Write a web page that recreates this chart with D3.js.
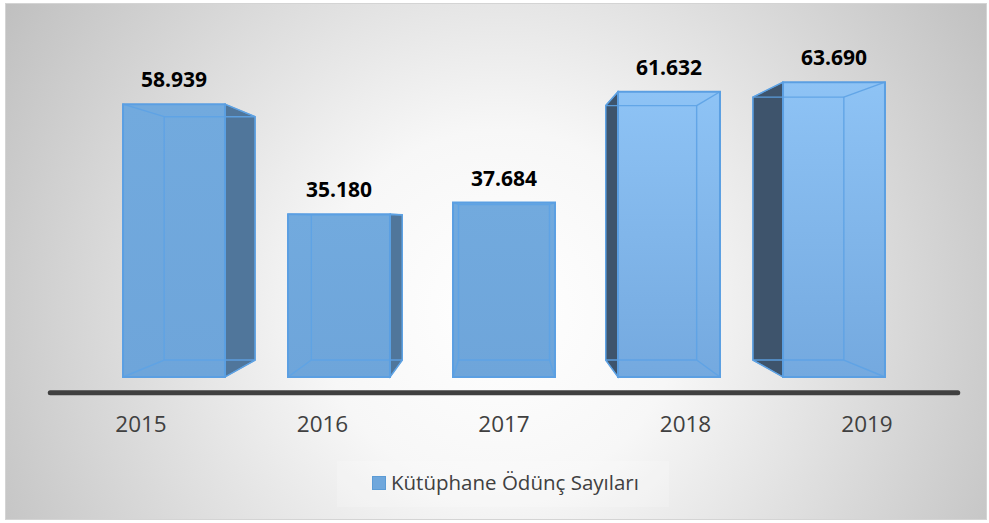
<!DOCTYPE html>
<html>
<head>
<meta charset="utf-8">
<script src="https://cdn.jsdelivr.net/npm/d3@7"></script>
<style>
  body { margin: 0; background: #fff; }
  svg { display: block; }
</style>
</head>
<body>
<script>
// size of the whole picture
var width = 989;
var height = 523;

// data
var years = ["2015", "2016", "2017", "2018", "2019"];
var values = [58939, 35180, 37684, 61632, 63690];
var seriesName = "Kütüphane Ödünç Sayıları";

// turkish number format, 58.939
var tr = d3.formatLocale({ decimal: ",", thousands: ".", grouping: [3], currency: ["", "₺"] });
var fmt = tr.format(",d");

var svg = d3.select("body").append("svg")
    .attr("width", width)
    .attr("height", height);

var defs = svg.append("defs");

// chart background, grey round the edges and white in the middle
var bg = defs.append("radialGradient")
    .attr("id", "bg")
    .attr("gradientUnits", "userSpaceOnUse")
    .attr("cx", 500).attr("cy", 310).attr("r", 600);
bg.append("stop").attr("offset", 0).attr("stop-color", "#ffffff");
bg.append("stop").attr("offset", 0.3).attr("stop-color", "#f7f7f7");
bg.append("stop").attr("offset", 1).attr("stop-color", "#bdbdbd");

// front faces
var gLeft = defs.append("linearGradient").attr("id", "faceL").attr("x1", 0).attr("y1", 0).attr("x2", 0).attr("y2", 1);
gLeft.append("stop").attr("offset", 0).attr("stop-color", "#72aade");
gLeft.append("stop").attr("offset", 1).attr("stop-color", "#6ea5da");
var gRight = defs.append("linearGradient").attr("id", "faceR").attr("x1", 0).attr("y1", 0).attr("x2", 0).attr("y2", 1);
gRight.append("stop").attr("offset", 0).attr("stop-color", "#8ec3f5");
gRight.append("stop").attr("offset", 1).attr("stop-color", "#74a9df");

svg.append("rect")
    .attr("x", 5.5).attr("y", 3.5)
    .attr("width", 981).attr("height", 516)
    .attr("fill", "url(#bg)")
    .attr("stroke", "#d4d4d4");

// scales
var x = d3.scaleBand()
    .domain(years)
    .range([91.5, 916.5])
    .paddingInner(0.382)
    .paddingOuter(0.191);

var y = d3.scaleLinear()
    .domain([0, 70000])
    .range([377, 53]);

// perspective: vanishing point, back face scale, floor scale
var vp = [504, 220];
var back = 0.892;
var floor = 1.1;

function proj(p, s) {
  return [vp[0] + (p[0] - vp[0]) * s, vp[1] + (p[1] - vp[1]) * s];
}

var line = d3.line();

var g = svg.append("g");

years.forEach(function(yr, i) {
  var x0 = x(yr), x1 = x(yr) + x.bandwidth();
  var yt = y(values[i]), yb = y(0);
  var F = [[x0, yt], [x1, yt], [x1, yb], [x0, yb]];
  var B = F.map(function(p) { return proj(p, back); });
  var cx = (x0 + x1) / 2;
  var bar = g.append("g").attr("class", "bar");

  // the side that we can see
  if (cx < vp[0] - 5) {
    bar.append("path")
        .attr("d", line([F[1], B[1], B[2], F[2]]) + "Z")
        .attr("fill", "#50769b")
        .attr("stroke", "#5b9bd5").attr("stroke-width", 1.2);
  } else if (cx > vp[0] + 5) {
    bar.append("path")
        .attr("d", line([F[0], B[0], B[3], F[3]]) + "Z")
        .attr("fill", "#3e546c")
        .attr("stroke", "#5b9bd5").attr("stroke-width", 1.2);
  }

  // front face
  bar.append("path")
      .attr("d", line(F) + "Z")
      .attr("fill", cx > vp[0] + 5 ? "url(#faceR)" : "url(#faceL)");

  // edges seen through the glass
  var edges = bar.append("g")
      .attr("fill", "none")
      .attr("stroke", "#5ea3e6")
      .attr("stroke-width", 1.4)
      .attr("opacity", 0.9);
  edges.append("path").attr("d", line(B) + "Z");
  for (var k = 0; k < 4; k++) {
    edges.append("path").attr("d", line([F[k], B[k]]));
  }

  bar.append("path")
      .attr("d", line(F) + "Z")
      .attr("fill", "none")
      .attr("stroke", "#5b9fe2")
      .attr("stroke-width", 2);

  // value label
  svg.append("text")
      .attr("x", cx)
      .attr("y", yt - 17)
      .attr("text-anchor", "middle")
      .attr("font-family", "'Open Sans', sans-serif")
      .attr("font-weight", "bold")
      .attr("font-size", 21)
      .attr("fill", "#000")
      .text(fmt(values[i]));

  // year label on the floor
  var lp = proj([cx, yb], floor);
  svg.append("text")
      .attr("x", lp[0])
      .attr("y", lp[1] + 39)
      .attr("text-anchor", "middle")
      .attr("font-family", "'Open Sans', sans-serif")
      .attr("font-size", 22.5)
      .attr("fill", "#404040")
      .text(yr);
});

// floor / axis line
var a0 = proj([x.range()[0], y(0)], floor);
var a1 = proj([x.range()[1], y(0)], floor);
svg.append("path")
    .attr("d", line([a0, a1]))
    .attr("stroke", "#404040")
    .attr("stroke-width", 5)
    .attr("stroke-linecap", "round");

// legend
var leg = svg.append("g");
leg.append("rect")
    .attr("x", 337).attr("y", 461)
    .attr("width", 332).attr("height", 46)
    .attr("fill", "#ffffff").attr("opacity", 0.2);
leg.append("rect")
    .attr("x", 372.5).attr("y", 476.5)
    .attr("width", 13).attr("height", 13)
    .attr("fill", "#6fa7dc")
    .attr("stroke", "#5b9bd5");
leg.append("text")
    .attr("x", 391)
    .attr("y", 490)
    .attr("font-family", "'Open Sans', sans-serif")
    .attr("font-size", 20.5)
    .attr("fill", "#404040")
    .text(seriesName);
</script>
</body>
</html>
